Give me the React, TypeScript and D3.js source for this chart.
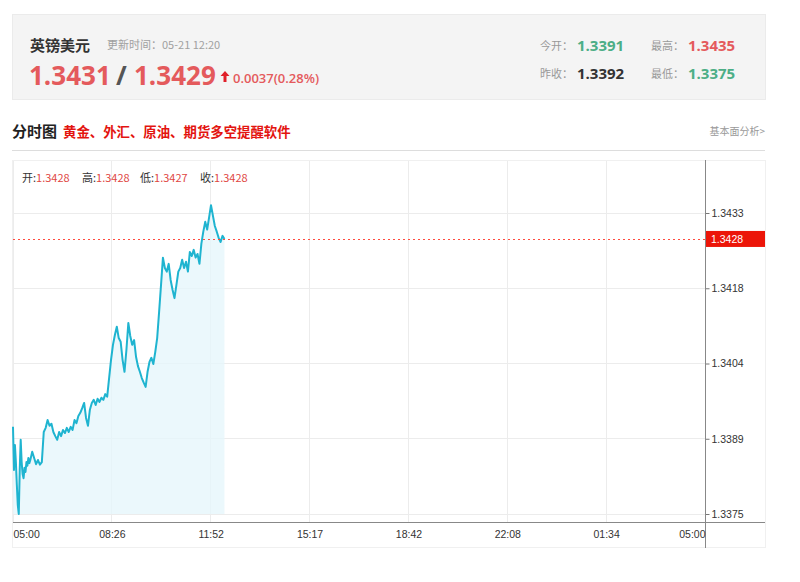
import React, { useRef, useEffect } from "react";
import * as d3 from "d3";

// minutes after 05:00
const minutes = [
  0, 2, 4, 6, 8, 10, 12, 14, 16, 18, 20, 22, 24, 26, 28, 30, 32, 34, 36, 38, 40,
  44, 48, 52, 56, 60, 64, 68, 72, 76, 80, 84, 88, 92, 96, 100, 104, 108, 112, 116,
  120, 124, 128, 132, 136, 140, 144, 148, 152, 156, 160, 164, 168, 172, 176, 180,
  184, 188, 192, 196, 200, 204, 208, 212, 216, 220, 224, 228, 232, 236, 240, 244,
  248, 252, 256, 260, 264, 268, 272, 276, 280, 284, 288, 292, 296, 300, 304, 308,
  312, 316, 320, 324, 328, 332, 336, 340, 344, 348, 352, 356, 360, 364, 368, 372,
  376, 380, 384, 388, 392, 396, 400, 404, 408, 412, 416, 420, 424, 428, 432, 436, 440,
];

const prices = [
  1.33918, 1.33835, 1.33883, 1.3385, 1.33806, 1.33767, 1.3375, 1.33835, 1.33893, 1.3385,
  1.33827, 1.33819, 1.33839, 1.33831, 1.3385, 1.33843, 1.33858, 1.33848, 1.33854, 1.33862,
  1.3387, 1.33858, 1.33846, 1.33854, 1.33845, 1.3385, 1.33908, 1.33916, 1.33931, 1.3392,
  1.33924, 1.33908, 1.339, 1.33893, 1.33908, 1.339, 1.33912, 1.33906, 1.33916, 1.33908,
  1.33918, 1.33912, 1.33931, 1.33925, 1.33939, 1.33945, 1.33954, 1.33964, 1.33935, 1.3392,
  1.33951, 1.33964, 1.3397, 1.3396, 1.33972, 1.33966, 1.33974, 1.3397, 1.33981, 1.33976,
  1.34012, 1.34047, 1.34076, 1.34095, 1.34111, 1.34089, 1.34082, 1.34047, 1.34024, 1.34066,
  1.34118, 1.34093, 1.34076, 1.34085, 1.34053, 1.34035, 1.34024, 1.34012, 1.34003, 1.33995,
  1.34024, 1.34043, 1.34051, 1.34039, 1.34062, 1.34089, 1.34139, 1.34191, 1.34244, 1.34224,
  1.34217, 1.34232, 1.34201, 1.34182, 1.34166, 1.34191, 1.34217, 1.34224, 1.3424, 1.34224,
  1.34236, 1.34217, 1.34255, 1.34247, 1.34259, 1.34244, 1.34251, 1.34232, 1.34271, 1.34294,
  1.34313, 1.34298, 1.34321, 1.34345, 1.34325, 1.34305, 1.34294, 1.34282, 1.34274, 1.34286,
  1.3428,
];

const xTickLabels = ["05:00", "08:26", "11:52", "15:17", "18:42", "22:08", "01:34", "05:00"];
const yTickValues = [1.3375, 1.33895, 1.3404, 1.34185, 1.3433];
const yTickLabels = ["1.3375", "1.3389", "1.3404", "1.3418", "1.3433"];
const lastPrice = 1.3428;

const ohlcLabels = ["开", "高", "低", "收"];
const ohlcValues = ["1.3428", "1.3428", "1.3427", "1.3428"];

const statLabels = ["今开：", "最高：", "昨收：", "最低："];
const statValues = ["1.3391", "1.3435", "1.3392", "1.3375"];

const W = 800;
const H = 582;
const CJK = "'Noto Sans CJK SC', sans-serif";
const NUM = "'Open Sans', sans-serif";
const AXIS = "'Liberation Sans', Arial, sans-serif";
const RED = "#e45a5c";
const GREEN = "#4cae86";
const LINE = "#1fb4d0";

const App: React.FC = () => {
  const svgRef = useRef<SVGSVGElement | null>(null);

  useEffect(() => {
    const svg = d3.select(svgRef.current);
    svg.selectAll("*").remove();

    svg.append("rect").attr("width", W).attr("height", H).attr("fill", "#fff");

    // header box
    svg
      .append("rect")
      .attr("x", 12.5)
      .attr("y", 14.5)
      .attr("width", 753)
      .attr("height", 85)
      .attr("fill", "#f4f4f4")
      .attr("stroke", "#ebebeb");

    svg
      .append("text")
      .attr("x", 30)
      .attr("y", 51)
      .attr("font-family", CJK)
      .attr("font-size", 15)
      .attr("font-weight", "bold")
      .attr("fill", "#333")
      .text("英镑美元");

    svg
      .append("text")
      .attr("x", 107)
      .attr("y", 49)
      .attr("font-family", CJK)
      .attr("font-size", 11)
      .attr("fill", "#a0a0a0")
      .text("更新时间：05-21 12:20");

    const big = svg
      .append("text")
      .attr("y", 85)
      .attr("font-family", NUM)
      .attr("font-size", 26)
      .attr("font-weight", "bold");
    big.append("tspan").attr("x", 29).attr("fill", RED).text("1.3431");
    big.append("tspan").attr("x", 116).attr("fill", "#555").text("/");
    big.append("tspan").attr("x", 134).attr("fill", RED).text("1.3429");

    // up arrow
    svg
      .append("path")
      .attr("d", "M225,71 L229.5,76 L226.5,76 L226.5,82 L223.5,82 L223.5,76 L220.5,76 Z")
      .attr("fill", "#e0202a");

    svg
      .append("text")
      .attr("x", 233)
      .attr("y", 83)
      .attr("font-family", NUM)
      .attr("font-size", 13)
      .attr("font-weight", 600)
      .attr("fill", RED)
      .text("0.0037(0.28%)");

    const statColors = [GREEN, RED, "#333", GREEN];
    statLabels.forEach((lab, i) => {
      const col = i % 2;
      const row = Math.floor(i / 2);
      const x = col === 0 ? 540 : 651;
      const y = row === 0 ? 51 : 79;
      svg
        .append("text")
        .attr("x", x)
        .attr("y", y - 1)
        .attr("font-family", CJK)
        .attr("font-size", 11)
        .attr("fill", "#999")
        .text(lab);
      svg
        .append("text")
        .attr("x", x + 37)
        .attr("y", y)
        .attr("font-family", NUM)
        .attr("font-size", 15)
        .attr("font-weight", "bold")
        .attr("fill", statColors[i])
        .text(statValues[i]);
    });

    // section title
    svg
      .append("text")
      .attr("x", 12)
      .attr("y", 137)
      .attr("font-family", CJK)
      .attr("font-size", 15)
      .attr("font-weight", "bold")
      .attr("fill", "#222")
      .text("分时图");
    svg
      .append("text")
      .attr("x", 63)
      .attr("y", 137)
      .attr("font-family", CJK)
      .attr("font-size", 13.4)
      .attr("font-weight", "bold")
      .attr("fill", "#e3140f")
      .text("黄金、外汇、原油、期货多空提醒软件");
    svg
      .append("text")
      .attr("x", 765)
      .attr("y", 135)
      .attr("text-anchor", "end")
      .attr("font-family", CJK)
      .attr("font-size", 10)
      .attr("fill", "#999")
      .text("基本面分析>");
    svg
      .append("line")
      .attr("x1", 12)
      .attr("x2", 765)
      .attr("y1", 150.5)
      .attr("y2", 150.5)
      .attr("stroke", "#ddd");

    // chart frame
    svg
      .append("rect")
      .attr("x", 12.5)
      .attr("y", 160.5)
      .attr("width", 753)
      .attr("height", 387)
      .attr("fill", "#fff")
      .attr("stroke", "#f0f0f0");

    const x = d3.scaleLinear().domain([0, 1440]).range([13, 705]);
    const y = d3
      .scaleLinear()
      .domain([yTickValues[0], yTickValues[yTickValues.length - 1]])
      .range([514, 213]);
    const xTickValues = xTickLabels.map((_, i) => (i * 1440) / 7);

    const grid = svg.append("g").attr("stroke", "#ececec").attr("shape-rendering", "crispEdges");
    xTickValues.forEach((t) => {
      grid
        .append("line")
        .attr("x1", x(t))
        .attr("x2", x(t))
        .attr("y1", 161)
        .attr("y2", 522);
    });
    yTickValues.forEach((v) => {
      grid
        .append("line")
        .attr("x1", 13)
        .attr("x2", 705)
        .attr("y1", y(v))
        .attr("y2", y(v));
    });

    const data = minutes.map((m, i) => ({ m, p: prices[i] }));

    const area = d3
      .area<{ m: number; p: number }>()
      .x((d) => x(d.m))
      .y0(y(yTickValues[0]))
      .y1((d) => y(d.p));
    svg
      .append("path")
      .datum(data)
      .attr("d", area)
      .attr("fill", "#e6f6fb")
      .attr("opacity", 0.8);

    const line = d3
      .line<{ m: number; p: number }>()
      .x((d) => x(d.m))
      .y((d) => y(d.p));
    svg
      .append("path")
      .datum(data)
      .attr("d", line)
      .attr("fill", "none")
      .attr("stroke", LINE)
      .attr("stroke-width", 2)
      .attr("stroke-linejoin", "round");

    // legend
    const legX = [22, 82, 140, 200];
    ohlcLabels.forEach((lab, i) => {
      const t = svg
        .append("text")
        .attr("x", legX[i])
        .attr("y", 182)
        .attr("font-family", CJK)
        .attr("font-size", 11);
      t.append("tspan").attr("fill", "#333").text(lab + ":");
      t.append("tspan").attr("fill", "#e0463f").text(ohlcValues[i]);
    });

    // last price line
    svg
      .append("line")
      .attr("x1", 13)
      .attr("x2", 705)
      .attr("y1", Math.round(y(lastPrice)) + 0.5)
      .attr("y2", Math.round(y(lastPrice)) + 0.5)
      .attr("stroke", "#ff4b3e")
      .attr("stroke-width", 1.2)
      .attr("stroke-dasharray", "2,3");

    // y axis
    const yAxis = d3
      .axisRight(y)
      .tickValues(yTickValues)
      .tickSize(4)
      .tickPadding(2)
      .tickFormat((_, i) => yTickLabels[i]);
    const yg = svg.append("g").attr("transform", "translate(705.5,0)").call(yAxis);
    yg.select(".domain").remove();
    yg.selectAll("line").attr("stroke", "#777");
    yg.selectAll("text")
      .attr("font-family", AXIS)
      .attr("font-size", 10.5)
      .attr("fill", "#333");
    svg
      .append("line")
      .attr("x1", 705.5)
      .attr("x2", 705.5)
      .attr("y1", 160)
      .attr("y2", 548)
      .attr("stroke", "#888");

    // last price tag
    const ly = y(lastPrice);
    svg
      .append("rect")
      .attr("x", 706)
      .attr("y", ly - 8)
      .attr("width", 59)
      .attr("height", 16)
      .attr("fill", "#ec1508");
    svg
      .append("text")
      .attr("x", 711)
      .attr("y", ly)
      .attr("dy", "0.35em")
      .attr("font-family", AXIS)
      .attr("font-size", 10.5)
      .attr("fill", "#fff")
      .text(lastPrice.toFixed(4));

    // x axis
    const xAxis = d3
      .axisBottom(x)
      .tickValues(xTickValues)
      .tickSize(0)
      .tickPadding(8)
      .tickFormat((_, i) => xTickLabels[i]);
    const xg = svg.append("g").attr("transform", "translate(0,522.5)").call(xAxis);
    xg.select(".domain").remove();
    xg.selectAll("text")
      .attr("font-family", AXIS)
      .attr("font-size", 10.5)
      .attr("fill", "#333")
      .attr("text-anchor", (_, i) =>
        i === 0 ? "start" : i === xTickLabels.length - 1 ? "end" : "middle"
      );
    svg
      .append("line")
      .attr("x1", 13)
      .attr("x2", 765)
      .attr("y1", 522.5)
      .attr("y2", 522.5)
      .attr("stroke", "#888");
  }, []);

  return (
    <svg
      ref={svgRef}
      width={W}
      height={H}
      style={{ position: "absolute", left: 0, top: 0 }}
    />
  );
};

export default App;
